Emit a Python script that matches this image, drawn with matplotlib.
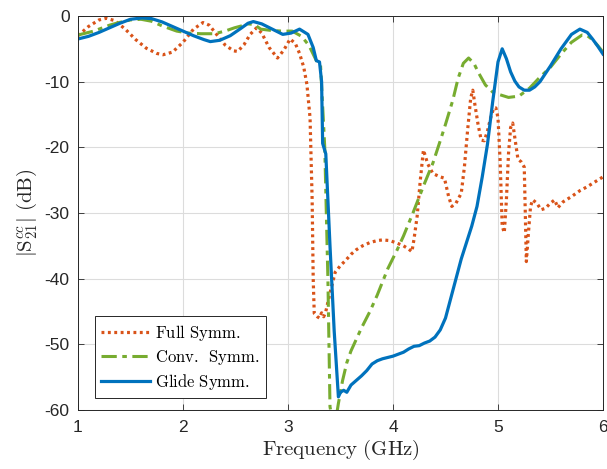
import numpy as np
import matplotlib
matplotlib.use("Agg")
import matplotlib.pyplot as plt

# dados (frequência em GHz, |S21cc| em dB)
f_full = [1.0, 1.1, 1.2, 1.27, 1.35, 1.45, 1.55, 1.65, 1.75, 1.81, 1.9, 2.0, 2.1, 2.19, 2.25,
          2.32, 2.4, 2.48, 2.52, 2.58, 2.64, 2.70, 2.75, 2.82, 2.9, 2.96, 3.02, 3.07, 3.11,
          3.15, 3.18, 3.21, 3.23, 3.24, 3.25, 3.28, 3.30, 3.32, 3.34, 3.36, 3.40, 3.45, 3.5,
          3.55, 3.6, 3.65, 3.71, 3.78, 3.85, 3.9, 3.97, 4.04, 4.1, 4.15, 4.18, 4.2, 4.23,
          4.26, 4.29, 4.33, 4.38, 4.45, 4.49, 4.53, 4.56, 4.6, 4.65, 4.68, 4.71, 4.74, 4.76,
          4.78, 4.81, 4.84, 4.87, 4.9, 4.93, 4.96, 4.98, 5.0, 5.02, 5.04, 5.06, 5.08, 5.10,
          5.12, 5.14, 5.16, 5.19, 5.22, 5.25, 5.26, 5.27, 5.29, 5.31, 5.33, 5.37, 5.41, 5.45,
          5.5, 5.54, 5.57, 5.62, 5.7, 5.78, 5.85, 5.92, 6.0]
s_full = [-3.0, -1.6, -0.6, -0.35, -0.7, -2.0, -3.6, -4.9, -5.7, -5.9, -5.5, -4.0, -2.0, -1.0,
          -1.4, -2.8, -4.4, -5.3, -5.4, -4.4, -2.8, -1.8, -2.6, -4.8, -6.4, -5.2, -3.5, -4.2,
          -5.7, -7.8, -10.4, -15.5, -28.0, -40.0, -45.3, -45.8, -46.0, -45.2, -45.8, -45.0,
          -42.2, -39.0, -38.0, -37.2, -36.3, -35.6, -35.0, -34.5, -34.2, -34.1, -34.2, -34.6,
          -35.0, -35.5, -35.9, -34.0, -30.5, -25.0, -20.4, -22.5, -24.0, -24.5, -24.7, -27.5,
          -29.0, -28.5, -27.0, -23.0, -17.5, -12.5, -11.3, -13.5, -16.5, -18.9, -19.0, -17.5,
          -15.5, -14.0, -14.0, -15.5, -22.0, -32.0, -33.0, -28.0, -21.0, -17.0, -16.3, -18.5,
          -21.8, -22.2, -23.0, -30.0, -37.4, -33.0, -29.0, -28.0, -28.5, -29.5, -29.3, -28.5,
          -28.0, -29.2, -28.3, -27.5, -26.6, -26.0, -25.3, -24.5]

f_conv = [1.0, 1.15, 1.3, 1.39, 1.5, 1.6, 1.7, 1.8, 1.94, 2.05, 2.17, 2.3, 2.4, 2.49, 2.56,
          2.62, 2.68, 2.74, 2.84, 2.94, 3.04, 3.13, 3.2, 3.27, 3.31, 3.35, 3.38, 3.40, 3.44,
          3.48, 3.52, 3.56, 3.6, 3.64, 3.7, 3.78, 3.85, 3.9, 3.95, 4.04, 4.1, 4.19, 4.3, 4.38,
          4.45, 4.5, 4.57, 4.62, 4.67, 4.72, 4.77, 4.82, 4.88, 4.95, 5.02, 5.1, 5.2, 5.3, 5.4,
          5.5, 5.6, 5.7, 5.8, 5.85, 5.9, 5.95, 6.0]
s_conv = [-2.9, -2.3, -1.4, -1.0, -0.6, -0.5, -0.8, -1.5, -2.3, -2.6, -2.7, -2.7, -2.3, -1.8,
          -1.5, -1.2, -1.3, -2.0, -2.2, -2.3, -2.3, -3.1, -4.5, -6.8, -7.5, -20.0, -40.0,
          -59.5, -63.0, -59.0, -55.5, -52.8, -51.0, -49.6, -47.5, -45.0, -42.5, -40.5, -38.5,
          -35.6, -33.5, -30.0, -25.5, -22.4, -19.0, -16.5, -12.8, -9.5, -7.2, -6.4, -7.2, -8.8,
          -10.5, -11.6, -12.0, -12.4, -12.2, -11.0, -9.3, -7.8, -5.8, -4.0, -2.9, -3.0, -3.6,
          -4.5, -5.5]

f_glide = [1.0, 1.1, 1.2, 1.3, 1.4, 1.5, 1.61, 1.7, 1.8, 1.9, 2.0, 2.1, 2.2, 2.26, 2.35, 2.45,
           2.55, 2.62, 2.67, 2.75, 2.85, 2.95, 3.03, 3.11, 3.19, 3.24, 3.27, 3.30, 3.32, 3.33,
           3.36, 3.40, 3.44, 3.48, 3.50, 3.53, 3.56, 3.6, 3.65, 3.7, 3.75, 3.8, 3.85, 3.9,
           3.95, 4.0, 4.05, 4.1, 4.15, 4.2, 4.25, 4.3, 4.35, 4.4, 4.45, 4.5, 4.55, 4.6, 4.65,
           4.7, 4.75, 4.8, 4.85, 4.9, 4.95, 5.0, 5.04, 5.08, 5.12, 5.16, 5.2, 5.25, 5.3, 5.35,
           5.4, 5.5, 5.6, 5.7, 5.78, 5.85, 5.9, 5.95, 6.0]
s_glide = [-3.5, -3.1, -2.5, -1.8, -1.1, -0.5, -0.3, -0.4, -0.9, -1.6, -2.3, -3.0, -3.6, -3.9,
           -3.7, -3.0, -1.9, -1.1, -0.85, -1.2, -2.0, -2.8, -2.6, -2.0, -2.8, -4.8, -6.8, -7.0,
           -10.0, -19.4, -21.0, -35.0, -48.0, -58.0, -57.3, -57.0, -57.3, -56.2, -55.5, -54.8,
           -54.0, -53.0, -52.5, -52.2, -52.0, -51.8, -51.5, -51.2, -50.7, -50.3, -50.2, -49.8,
           -49.5, -48.9, -47.8, -46.0, -43.0, -40.0, -37.0, -34.5, -32.0, -29.0, -24.5, -19.5,
           -13.0, -7.0, -5.0, -6.5, -8.5, -9.9, -10.8, -11.3, -11.3, -10.8, -10.0, -7.6, -5.0,
           -2.8, -2.0, -2.5, -3.5, -4.6, -5.8]

xticks = [1, 2, 3, 4, 5, 6]
yticks = [-60, -50, -40, -30, -20, -10, 0]

plt.rcParams["mathtext.fontset"] = "cm"
plt.rcParams["axes.unicode_minus"] = False
plt.rcParams["font.family"] = "Liberation Sans"

eixo = "#262626"
fig = plt.figure(figsize=(6.07, 4.69), dpi=100)
ax = fig.add_axes([0.1285, 0.1258, 0.8649, 0.8401])

ax.plot(f_full, s_full, color="#D95319", lw=2.3, linestyle=(0, (0.9, 1.1)),
        label=r"$\mathrm{Full\ Symm.}$")
ax.plot(f_conv, s_conv, color="#77AC30", lw=2.2, linestyle=(0, (5, 1.8, 1.5, 1.8)),
        label=r"$\mathrm{Conv.\ \,Symm.}$")
ax.plot(f_glide, s_glide, color="#0072BD", lw=2.3, linestyle="-",
        label=r"$\mathrm{Glide\ Symm.}$")

ax.set_xlim(1, 6)
ax.set_ylim(-60, 0)
ax.set_xticks(xticks)
ax.set_yticks(yticks)
ax.tick_params(direction="in", length=4, width=0.6, colors=eixo, labelsize=12.5,
               top=True, right=True, pad=6)
ax.tick_params(axis="x", pad=7)
for s in ax.spines.values():
    s.set_color(eixo)
    s.set_linewidth(0.7)
ax.grid(True, color="#dcdcdc", lw=0.8)
ax.set_axisbelow(True)

ax.set_xlabel(r"$\mathrm{Frequency\ (GHz)}$", fontsize=15, color=eixo, labelpad=2)
ax.set_ylabel(r"$|\mathrm{S}_{21}^{cc}|\ \mathrm{(dB)}$", fontsize=15, color=eixo, labelpad=4)

leg = ax.legend(loc="lower left", bbox_to_anchor=(0.032, 0.03), borderaxespad=0,
                fontsize=12, fancybox=False, framealpha=1, edgecolor=eixo,
                handlelength=2.9, handletextpad=0.3, labelspacing=0.3, borderpad=0.4)
leg.get_frame().set_linewidth(0.7)

plt.savefig("out.png", dpi=100)
